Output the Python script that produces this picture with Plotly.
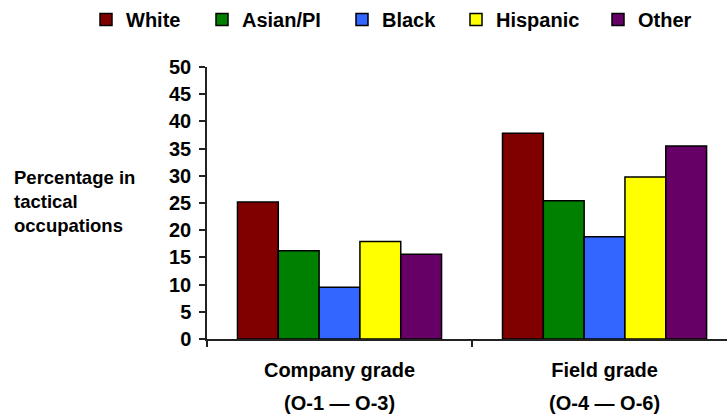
import plotly.graph_objects as go

# Grade groups and their pay-grade ranges
grades = ["Company grade", "Field grade"]
grade_ranges = ["(O-1 — O-3)", "(O-4 — O-6)"]

# Percentage of officers in tactical occupations, by race/ethnicity
groups = ["White", "Asian/PI", "Black", "Hispanic", "Other"]
values = {
    "White":    [25.2, 37.8],
    "Asian/PI": [16.2, 25.4],
    "Black":    [9.5, 18.8],
    "Hispanic": [17.9, 29.8],
    "Other":    [15.6, 35.5],
}
colors = {
    "White":    "#800000",
    "Asian/PI": "#008000",
    "Black":    "#3366FF",
    "Hispanic": "#FFFF00",
    "Other":    "#660066",
}

y_ticks = list(range(0, 51, 5))
y_title = "Percentage in<br>tactical<br>occupations"

FONT = "Liberation Sans, Arial, sans-serif"

# Layout geometry (pixels)
W, H = 727, 414
ML, MR, MT, MB = 207, 0, 67, 75
PW, PH = W - ML - MR, H - MT - MB

# Left edge (px) of each legend entry along the top row
legend_left_px = [86, 202, 342, 456, 598]

fig = go.Figure()
legend_ids = []
for i, g in enumerate(groups):
    lid = "legend" if i == 0 else f"legend{i + 1}"
    legend_ids.append(lid)
    fig.add_trace(go.Bar(
        name=g,
        x=grades,
        y=values[g],
        legend=lid,
        marker=dict(color=colors[g], line=dict(color="black", width=1.5)),
    ))

legend_style = dict(
    orientation="h",
    xanchor="left",
    y=1 + MT / PH,
    yanchor="top",
    font=dict(family=FONT, size=20, color="black", weight=700),
    itemwidth=30,
    bgcolor="rgba(0,0,0,0)",
)
legend_layout = {}
for lid, px in zip(legend_ids, legend_left_px):
    legend_layout[lid] = dict(legend_style, x=(px - ML) / PW)

fig.update_layout(
    width=W,
    height=H,
    margin=dict(l=ML, r=MR, t=MT, b=MB),
    paper_bgcolor="white",
    plot_bgcolor="white",
    barmode="group",
    bargap=0.23,
    bargroupgap=0,
    showlegend=True,
    font=dict(family=FONT, color="black"),
    **legend_layout,
)

fig.update_xaxes(
    type="category",
    range=[-0.5, 1.462],
    showline=True,
    linecolor="#222222",
    linewidth=1.5,
    ticks="outside",
    tickson="boundaries",
    ticklen=6,
    tickcolor="#222222",
    tickwidth=1.5,
    showgrid=False,
    tickfont=dict(family=FONT, size=20, color="black", weight=700),
    ticklabelstandoff=12,
)

fig.update_yaxes(
    range=[0, 50],
    tickvals=y_ticks,
    showline=True,
    linecolor="#222222",
    linewidth=1.5,
    ticks="outside",
    ticklen=6,
    tickcolor="#222222",
    tickwidth=1.5,
    showgrid=False,
    zeroline=False,
    tickfont=dict(family=FONT, size=20, color="black", weight=700),
    ticklabelstandoff=4,
)

# Second line under each group label: the pay-grade range
for g, r in zip(grades, grade_ranges):
    fig.add_annotation(
        x=g, y=-(403 - MT - PH) / PH, xref="x", yref="paper",
        text=r, showarrow=False,
        font=dict(family=FONT, size=20, color="black", weight=700),
        yanchor="middle",
    )

# Axis title, set horizontally to the left of the tick labels
fig.add_annotation(
    x=(12 - ML) / PW, y=1 - (201 - MT) / PH, xref="paper", yref="paper",
    text=y_title, showarrow=False, align="left",
    font=dict(family=FONT, size=18.5, color="black", weight=700),
    xanchor="left", yanchor="middle",
)

fig.write_html("out.html")
